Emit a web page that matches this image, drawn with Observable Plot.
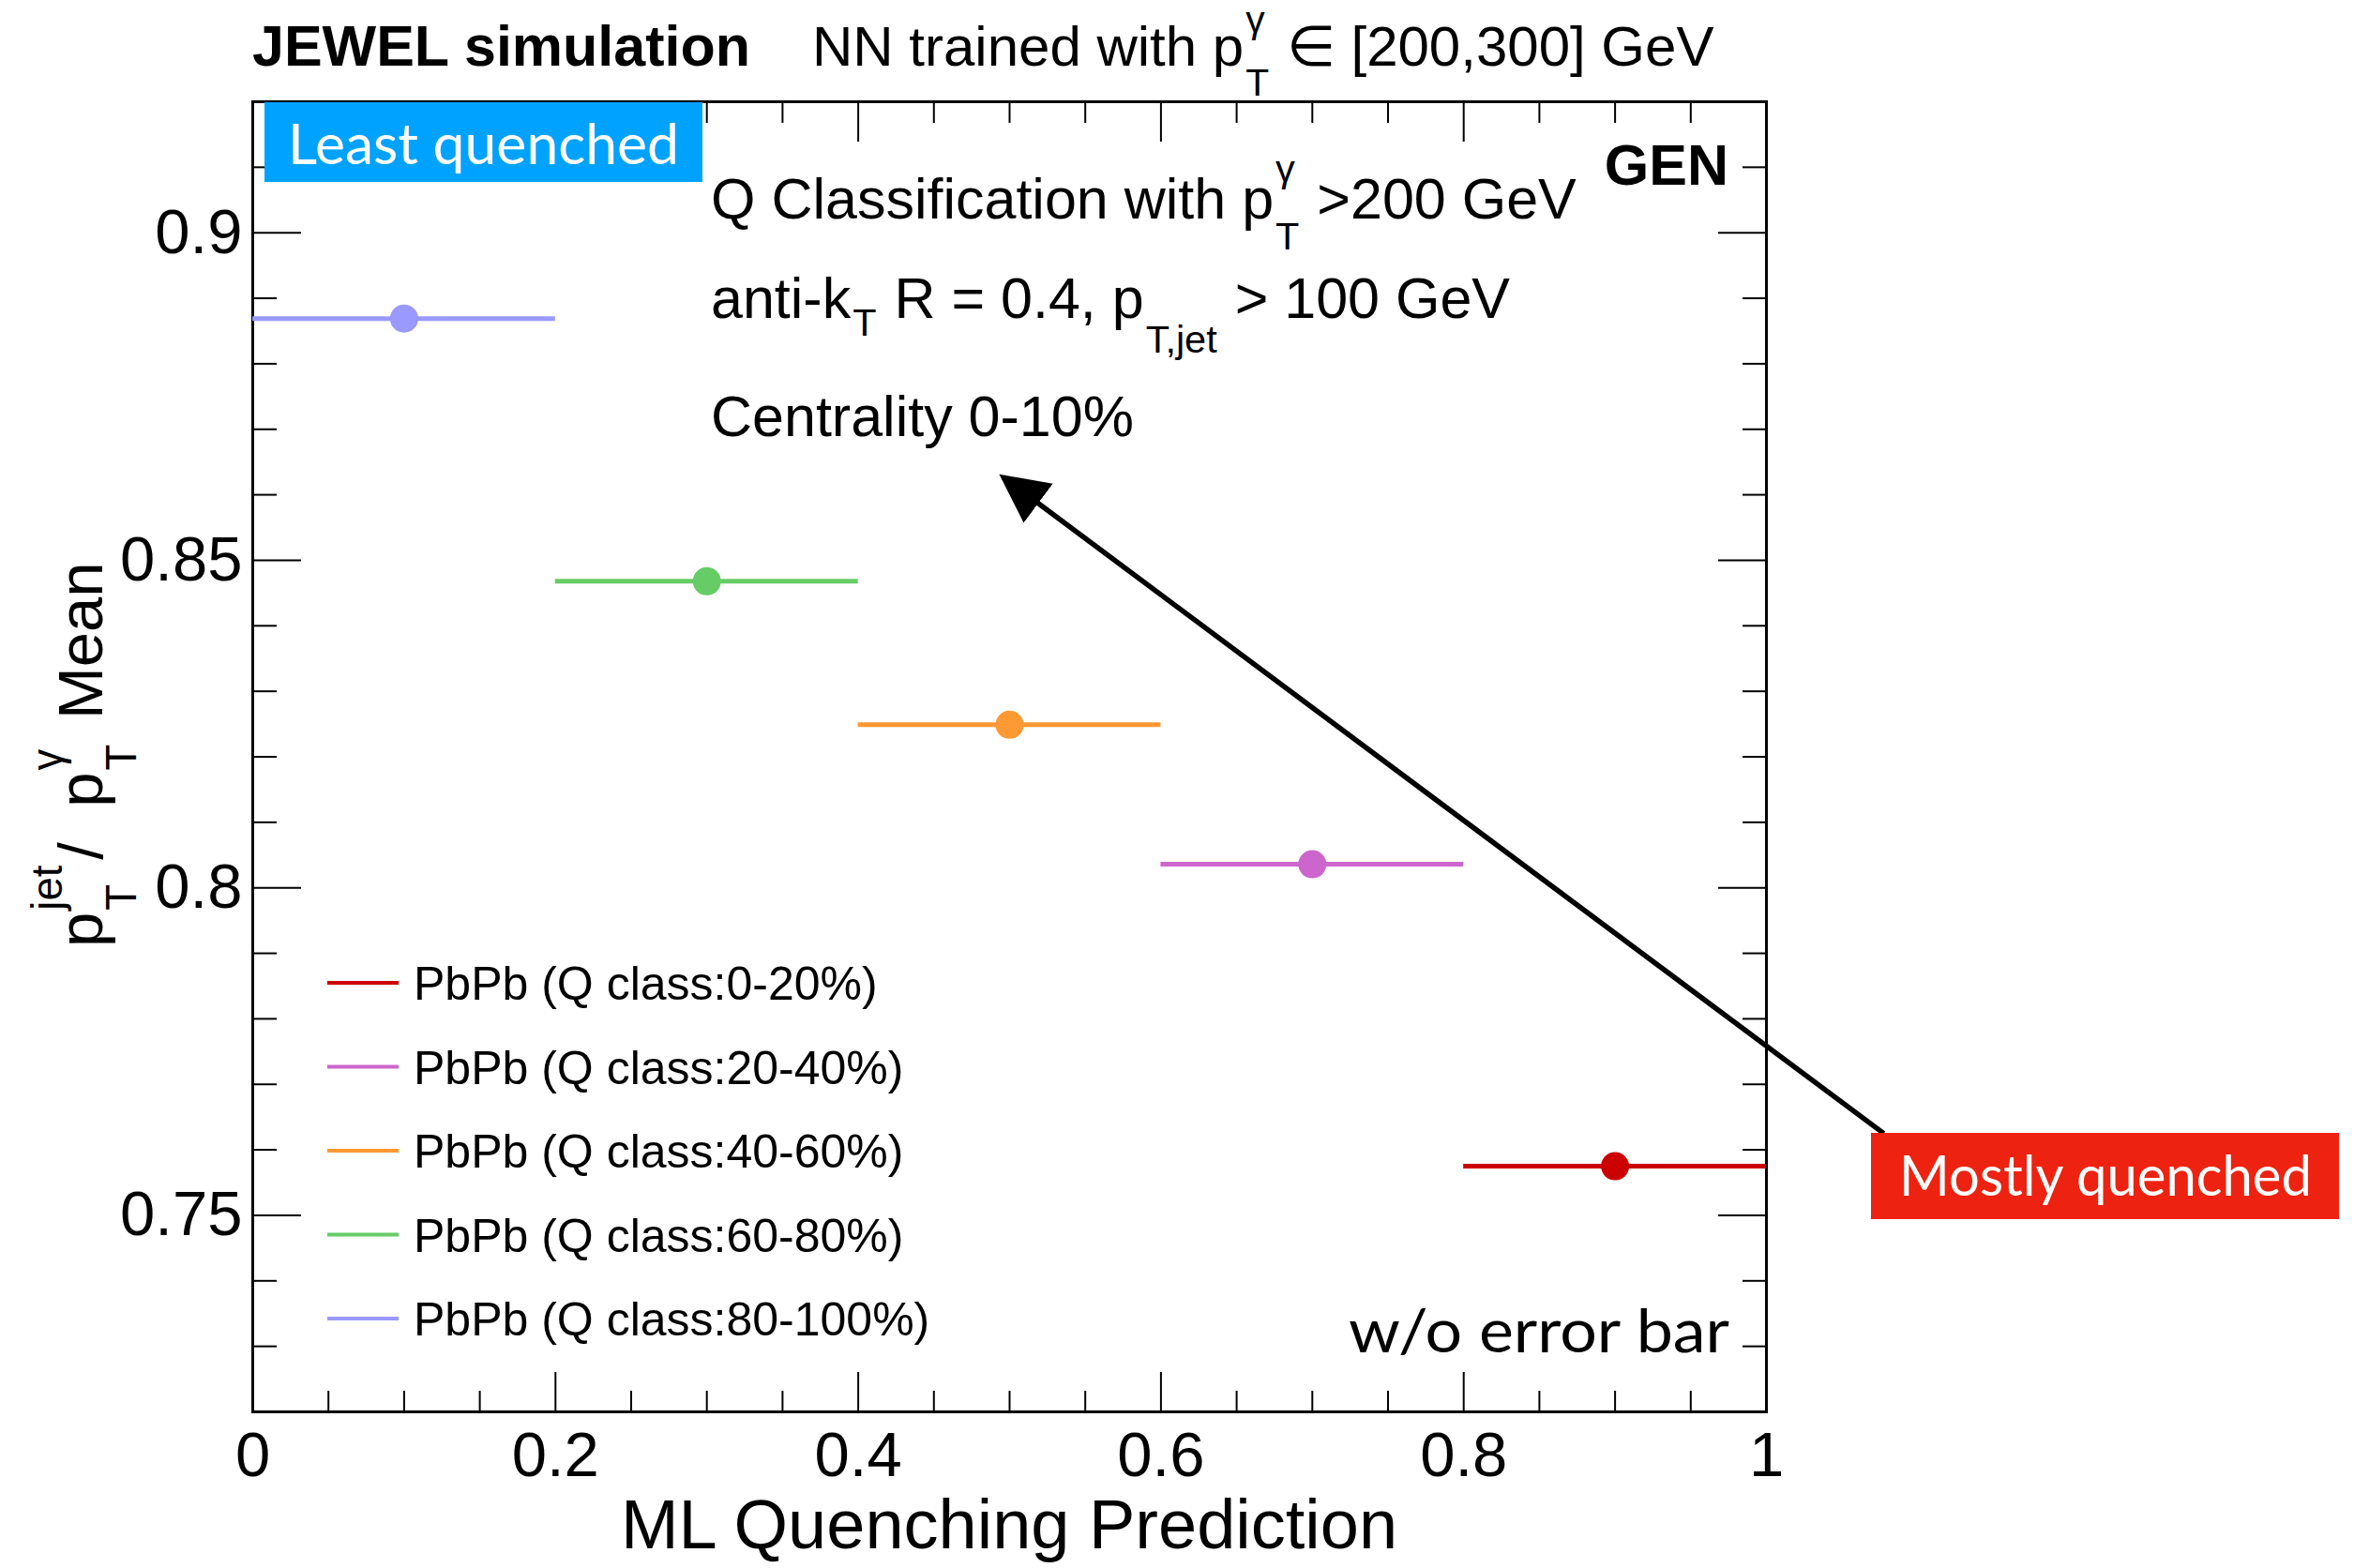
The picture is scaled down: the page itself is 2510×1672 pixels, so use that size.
<!DOCTYPE html>
<html><head><meta charset="utf-8">
<script src="https://cdn.jsdelivr.net/npm/d3@7"></script>
<script src="https://cdn.jsdelivr.net/npm/@observablehq/plot@0.6"></script>
<style>
html,body{margin:0;padding:0;background:#fff;}
#chart{position:relative;width:2510px;height:1672px;overflow:hidden;}
svg text{white-space:pre;}
</style></head><body><div id="chart"></div>
<script>
// ---- data ----
const classLabels = ["PbPb (Q class:0-20%)","PbPb (Q class:20-40%)","PbPb (Q class:40-60%)","PbPb (Q class:60-80%)","PbPb (Q class:80-100%)"];
const binLow    = [0.8, 0.6, 0.4, 0.2, 0.0];
const binHigh   = [1.0, 0.8, 0.6, 0.4, 0.2];
const binCenter = [0.9, 0.7, 0.5, 0.3, 0.1];
const meanRatio = [0.7575, 0.8036, 0.8249, 0.8468, 0.8869];
const seriesColors = ["#CC0000","#CC66CC","#FF9933","#66CC66","#9999FF"];
const xDomain = [0, 1];
const yDomain = [0.72, 0.92];
const xMajorTicks = [0, 0.2, 0.4, 0.6, 0.8, 1];
const xMinorTicks = [0.05,0.1,0.15,0.25,0.3,0.35,0.45,0.5,0.55,0.65,0.7,0.75,0.85,0.9,0.95];
const yMajorTicks = [0.75, 0.8, 0.85, 0.9];
const yMinorTicks = [0.73,0.74,0.76,0.77,0.78,0.79,0.81,0.82,0.83,0.84,0.86,0.87,0.88,0.89,0.91];
const arrowFrom = [1.0775, 0.7625];
const arrowTo   = [0.4957, 0.8627];

const FONT = "'Liberation Sans', Arial, Helvetica, sans-serif";
const PPT = "Lato, 'Open Sans', sans-serif";

const data = classLabels.map((label, i) => ({label, lo: binLow[i], hi: binHigh[i], xc: binCenter[i], y: meanRatio[i], color: seriesColors[i]}));
const arrowData = [{x1: arrowFrom[0], y1: arrowFrom[1], x2: arrowTo[0], y2: arrowTo[1]}];

const tk = {strokeWidth: 2, text: null, label: null};
const chart = Plot.plot({
  width: 2510, height: 1672,
  marginLeft: 269, marginRight: 627, marginTop: 108, marginBottom: 167,
  style: {fontFamily: FONT, background: "white", color: "black", overflow: "visible"},
  x: {domain: xDomain, label: null},
  y: {domain: yDomain, label: null},
  color: {type: "identity"},
  marks: [
    Plot.axisX({...tk, anchor: "bottom", ticks: xMinorTicks, tickSize: 22, dy: -22}),
    Plot.axisX({...tk, anchor: "bottom", ticks: xMajorTicks, tickSize: 42, dy: -42}),
    Plot.axisX({...tk, anchor: "top", ticks: xMinorTicks, tickSize: 22, dy: 22}),
    Plot.axisX({...tk, anchor: "top", ticks: xMajorTicks, tickSize: 42, dy: 42}),
    Plot.axisY({...tk, anchor: "left", ticks: yMinorTicks, tickSize: 26, dx: 26}),
    Plot.axisY({...tk, anchor: "left", ticks: yMajorTicks, tickSize: 52, dx: 52}),
    Plot.axisY({...tk, anchor: "right", ticks: yMinorTicks, tickSize: 26, dx: -26}),
    Plot.axisY({...tk, anchor: "right", ticks: yMajorTicks, tickSize: 52, dx: -52}),
    Plot.axisX({anchor: "bottom", ticks: xMajorTicks, tickSize: 0, tickPadding: 21, fontSize: 67, tickFormat: d => String(d), label: null}),
    Plot.axisY({anchor: "left", ticks: yMajorTicks, tickSize: 0, tickPadding: 11, fontSize: 67, tickFormat: d => String(d), label: null}),
    Plot.frame({stroke: "black", strokeWidth: 3}),
    Plot.ruleY(data, {y: "y", x1: "lo", x2: "hi", stroke: "color", strokeWidth: 5}),
    Plot.dot(data, {x: "xc", y: "y", fill: "color", r: 15}),
    Plot.link(arrowData, {x1: "x1", y1: "y1", x2: "x2", y2: "y2", stroke: "black", strokeWidth: 5.5})
  ]
});
document.getElementById("chart").appendChild(chart);

const root = d3.select(chart);
// arrow head
const defs = root.append("defs");
defs.append("marker").attr("id", "arrowhead").attr("viewBox", "0 0 10 10")
  .attr("refX", 9).attr("refY", 5).attr("markerUnits", "userSpaceOnUse")
  .attr("markerWidth", 52).attr("markerHeight", 60).attr("orient", "auto")
  .append("path").attr("d", "M0,0L10,5L0,10Z").attr("fill", "black");
root.selectAll('g[aria-label="link"] path').attr("marker-end", "url(#arrowhead)");

const svg = root.append("g").attr("text-anchor", "start");

// rich text helper (ROOT-like sub/superscripts)
function rich(x, y, segs, size, opts = {}) {
  const g = svg.append("g").attr("font-family", opts.family || FONT)
    .attr("font-size", size).attr("font-weight", opts.weight || "normal")
    .attr("fill", opts.fill || "black");
  let cx = 0;
  for (const s of segs) {
    if (typeof s === "string") {
      const t = g.append("text").attr("x", cx).attr("y", 0).text(s);
      cx += t.node().getComputedTextLength();
    } else {
      const ss = (s.scale || 0.68) * size;
      let w = 0;
      if (s.sup) {
        const t = g.append("text").attr("x", cx + 2).attr("y", -(s.supShift ?? 0.64) * size).attr("font-size", ss).text(s.sup);
        w = Math.max(w, t.node().getComputedTextLength());
      }
      if (s.sub) {
        const t = g.append("text").attr("x", cx + 2).attr("y", (s.subShift ?? 0.54) * size).attr("font-size", ss).text(s.sub);
        w = Math.max(w, t.node().getComputedTextLength());
      }
      cx += w + 4 + (s.gap || 0);
    }
  }
  let tx = x;
  if (opts.anchor === "end") tx = x - cx;
  if (opts.anchor === "middle") tx = x - cx / 2;
  g.attr("transform", `translate(${tx},${y})` + (opts.rotate ? ` rotate(${opts.rotate})` : ""));
  return g;
}

// header
rich(269, 70, ["JEWEL simulation"], 61, {weight: "bold"});
rich(866, 70, ["NN trained with p", {sup: "γ", sub: "T", supShift: 0.58}, " ∈ [200,300] GeV"], 60);
// in-plot text
rich(1843, 197, ["GEN"], 61, {weight: "bold", anchor: "end"});
rich(758, 233, ["Q Classification with p", {sup: "γ", sub: "T"}, " >200 GeV"], 61);
rich(758, 339, ["anti-k", {sub: "T", subShift: 0.31}, " R = 0.4, p", {sub: "T,jet", subShift: 0.6}, " > 100 GeV"], 61);
rich(758, 465, ["Centrality 0-10%"], 61);
// axis titles
rich(1076, 1651, ["ML Quenching Prediction"], 74, {anchor: "middle"});
rich(109, 1010, ["p", {sup: "jet", sub: "T", gap: 4}, "/  p", {sup: "γ", sub: "T", gap: 6}, " Mean"], 67, {rotate: -90});

// legend
classLabels.forEach((label, i) => {
  const y = 1048 + i * 89.5;
  svg.append("line").attr("x1", 349).attr("x2", 425).attr("y1", y).attr("y2", y)
    .attr("stroke", seriesColors[i]).attr("stroke-width", 4);
  svg.append("text").attr("x", 441).attr("y", y + 18).attr("font-family", FONT)
    .attr("font-size", 50).text(label);
});

// annotation boxes
function box(x, y, w, h, fill, label, tx, ty, tlen, size) {
  svg.append("rect").attr("x", x).attr("y", y).attr("width", w).attr("height", h).attr("fill", fill);
  svg.append("text").attr("x", tx).attr("y", ty).attr("font-family", PPT).attr("font-size", size)
    .attr("fill", "white").attr("textLength", tlen).attr("lengthAdjust", "spacingAndGlyphs").text(label);
}
box(282, 109, 467, 85, "#00A2FF", "Least quenched", 307, 175, 417, 60);
box(1995, 1208, 499, 92, "#EE2211", "Mostly quenched", 2025, 1275, 440, 60);
svg.append("text").attr("x", 1438).attr("y", 1442).attr("font-family", PPT).attr("font-size", 64)
  .attr("textLength", 406).attr("lengthAdjust", "spacingAndGlyphs").text("w/o error bar");
</script></body></html>
